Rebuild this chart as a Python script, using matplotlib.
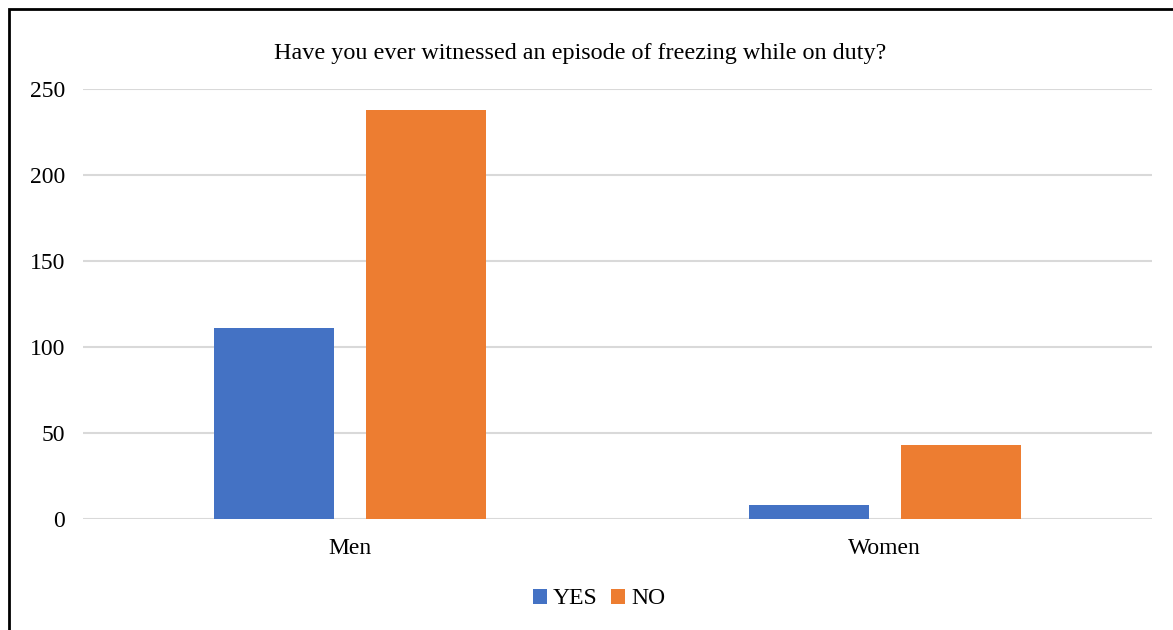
import matplotlib
matplotlib.use("Agg")
import matplotlib.pyplot as plt
from matplotlib.patches import Rectangle
import numpy as np

categories = ["Men", "Women"]
series_names = ["YES", "NO"]
yes_values = [111, 8]
no_values = [238, 43]
y_ticks = [0, 50, 100, 150, 200, 250]
title = "Have you ever witnessed an episode of freezing while on duty?"

colors = ["#4472C4", "#ED7D31"]

plt.rcParams['font.family'] = ['Liberation Serif', 'DejaVu Serif']

W, H = 1173, 630
fig = plt.figure(figsize=(W / 100, H / 100), dpi=100)
ax = fig.add_axes([83 / W, 1 - 519 / H, (1152 - 83) / W, (519 - 89) / H])

x = np.arange(len(categories))
bw = 0.2245
off = 0.142
ax.bar(x - off, yes_values, bw, color=colors[0], label=series_names[0], zorder=3)
ax.bar(x + off, no_values, bw, color=colors[1], label=series_names[1], zorder=3)

ax.set_xlim(-0.5, 1.5)
ax.set_ylim(0, 250)
ax.set_yticks(y_ticks)
ax.set_xticks(x)
ax.set_xticklabels(categories)
ax.tick_params(axis='both', length=0, labelsize=17, colors='black')
ax.tick_params(axis='y', pad=13)
ax.tick_params(axis='x', pad=14)
ax.grid(axis='y', color='#d9d9d9', linewidth=1.5, zorder=0)
ax.set_axisbelow(True)
for s in ['top', 'right', 'left', 'bottom']:
    ax.spines[s].set_visible(False)

fig.text(580 / W, 1 - 53 / H, title, ha='center', va='center', fontsize=17.4)

leg = fig.legend(loc='center', bbox_to_anchor=(599 / W, 1 - 599 / H), ncol=2,
                 frameon=False, fontsize=17, handlelength=0.6, handleheight=0.6,
                 handletextpad=0.25, columnspacing=0.55)

# outer frame (cropped at right and bottom)
fig.patches.append(Rectangle((9 / W, -0.05), 1.1, 1 - 9 / H + 0.05,
                             transform=fig.transFigure, fill=False,
                             edgecolor='black', linewidth=2))

fig.savefig("out.png", dpi=100)
